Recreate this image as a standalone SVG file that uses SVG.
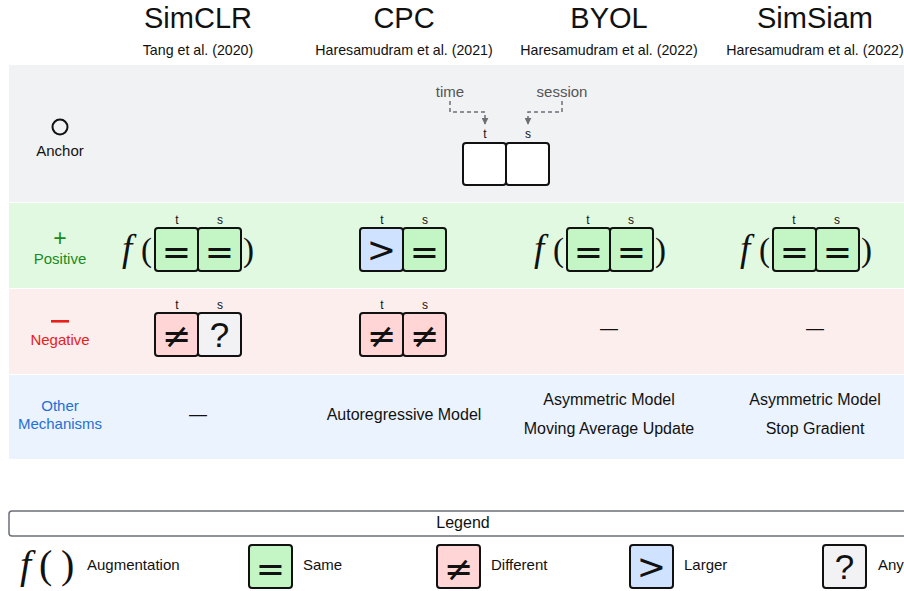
<svg xmlns="http://www.w3.org/2000/svg" width="904" height="591" viewBox="0 0 904 591">
<defs>
<style>
text{font-family:"Liberation Sans",Arial,sans-serif;fill:#111}
.title{font-size:29px;text-anchor:middle}
.cite{font-size:14.2px;text-anchor:middle}
.lbl{font-size:15px;text-anchor:middle}
.leg{font-size:15px}
.ts{font-size:12px;text-anchor:middle}
.box{stroke:#111;stroke-width:2;rx:3}
.g{fill:#c4f5c5}
.r{fill:#ffd5d5}
.b{fill:#cfe2ff}
.w{fill:#fff}
.n{fill:#f2f2f4}
.sym{font-family:"DejaVu Sans",sans-serif;font-size:35px;text-anchor:middle}
.q{font-size:35px;text-anchor:middle}
.math{font-family:"Liberation Serif","Times New Roman",serif;font-size:33px}
.fi{font-family:"Liberation Serif","Times New Roman",serif;font-size:37px;font-style:italic}
.mathL{font-family:"Liberation Serif","Times New Roman",serif;font-size:40px}
.mech{font-size:16px;text-anchor:middle}
.dash{font-size:18px;text-anchor:middle}
.conn{fill:none;stroke:#6b6f76;stroke-width:1.5;stroke-dasharray:4 3}
</style>
<marker id="arr" viewBox="0 0 10 10" refX="9" refY="5" markerWidth="7" markerHeight="7" orient="auto-start-reverse" markerUnits="userSpaceOnUse">
<path d="M0,0 L10,5 L0,10 z" fill="#6b6f76"/>
</marker>
</defs>
<rect width="904" height="591" fill="#fff"/>

<!-- row backgrounds -->
<rect x="9" y="65" width="895" height="137" fill="#f1f2f4"/>
<rect x="9" y="203" width="895" height="85" fill="#e1f9e1"/>
<rect x="9" y="289" width="895" height="85" fill="#fdeeee"/>
<rect x="9" y="375" width="895" height="84" fill="#ebf3fe"/>

<!-- titles -->
<g id="col-simclr">
<text class="title" x="198" y="28">SimCLR</text>
<text class="cite" x="198" y="55">Tang et al. (2020)</text>
</g>
<g id="col-cpc">
<text class="title" x="404" y="28">CPC</text>
<text class="cite" x="404" y="55">Haresamudram et al. (2021)</text>
</g>
<g id="col-byol">
<text class="title" x="609" y="28">BYOL</text>
<text class="cite" x="609" y="55">Haresamudram et al. (2022)</text>
</g>
<g id="col-simsiam">
<text class="title" x="815" y="28">SimSiam</text>
<text class="cite" x="815" y="55">Haresamudram et al. (2022)</text>
</g>

<!-- row labels -->
<g id="label-anchor">
<circle cx="60" cy="127" r="7.5" fill="none" stroke="#111" stroke-width="2"/>
<text class="lbl" x="60" y="156">Anchor</text>
</g>
<g id="label-positive">
<text x="60" y="246" style="font-size:23px;text-anchor:middle;fill:#1a8a1a">+</text>
<text class="lbl" x="60" y="264" style="fill:#1a8a1a">Positive</text>
</g>
<g id="label-negative">
<rect x="51" y="320" width="18" height="2.6" fill="#e8201c"/>
<text class="lbl" x="60" y="345" style="fill:#e8201c">Negative</text>
</g>
<g id="label-other">
<text class="lbl" x="60" y="411" style="fill:#1f6fd6">Other</text>
<text class="lbl" x="60" y="429" style="fill:#1f6fd6">Mechanisms</text>
</g>

<!-- anchor -->
<g id="anchor-pair">
<text class="lbl" x="450" y="97" style="fill:#555">time</text>
<text class="lbl" x="562" y="97" style="fill:#555">session</text>
<text class="ts" x="485" y="138">t</text>
<text class="ts" x="528" y="138">s</text>
<rect class="box w" x="463" y="143" width="43" height="42"/>
<rect class="box w" x="506" y="143" width="43" height="42"/>
</g>
<g id="connectors">
<path class="conn" d="M450,101 V112 H485 V124" marker-end="url(#arr)"/>
<path class="conn" d="M562,101 V112 H528 V124" marker-end="url(#arr)"/>
</g>

<!-- positive row -->
<g id="pos-simclr">
<text class="fi" x="122" y="261">f</text>
<text class="math" x="141" y="261">(</text>
<text class="ts" x="177" y="224">t</text>
<text class="ts" x="220" y="224">s</text>
<rect class="box g" x="155" y="228" width="43" height="43"/>
<rect class="box g" x="198" y="228" width="43" height="43"/>
<text class="sym" x="176.5" y="264">=</text>
<text class="sym" x="219.5" y="264">=</text>
<text class="math" x="243" y="261">)</text>
</g>
<g id="pos-cpc">
<text class="ts" x="382" y="224">t</text>
<text class="ts" x="425" y="224">s</text>
<rect class="box b" x="360" y="228" width="43" height="43"/>
<rect class="box g" x="403" y="228" width="43" height="43"/>
<text class="sym" x="381.5" y="262">&gt;</text>
<text class="sym" x="424.5" y="264">=</text>
</g>
<g id="pos-byol">
<text class="fi" x="534" y="261">f</text>
<text class="math" x="553" y="261">(</text>
<text class="ts" x="588" y="224">t</text>
<text class="ts" x="631" y="224">s</text>
<rect class="box g" x="567" y="228" width="43" height="43"/>
<rect class="box g" x="610" y="228" width="43" height="43"/>
<text class="sym" x="588.5" y="264">=</text>
<text class="sym" x="631.5" y="264">=</text>
<text class="math" x="655" y="261">)</text>
</g>
<g id="pos-simsiam">
<text class="fi" x="740" y="261">f</text>
<text class="math" x="759" y="261">(</text>
<text class="ts" x="794" y="224">t</text>
<text class="ts" x="837" y="224">s</text>
<rect class="box g" x="773" y="228" width="43" height="43"/>
<rect class="box g" x="816" y="228" width="43" height="43"/>
<text class="sym" x="794.5" y="264">=</text>
<text class="sym" x="837.5" y="264">=</text>
<text class="math" x="861" y="261">)</text>
</g>

<!-- negative row -->
<g id="neg-simclr">
<text class="ts" x="177" y="309">t</text>
<text class="ts" x="220" y="309">s</text>
<rect class="box r" x="155" y="313" width="43" height="43"/>
<rect class="box n" x="198" y="313" width="43" height="43"/>
<text class="sym" x="176.5" y="348">≠</text>
<text class="q" x="219.5" y="347">?</text>
</g>
<g id="neg-cpc">
<text class="ts" x="382" y="309">t</text>
<text class="ts" x="425" y="309">s</text>
<rect class="box r" x="360" y="313" width="43" height="43"/>
<rect class="box r" x="403" y="313" width="43" height="43"/>
<text class="sym" x="381.5" y="348">≠</text>
<text class="sym" x="424.5" y="348">≠</text>
</g>
<g id="neg-byol"><text class="dash" x="609" y="334">—</text></g>
<g id="neg-simsiam"><text class="dash" x="815" y="334">—</text></g>

<!-- other mechanisms -->
<g id="oth-simclr"><text class="dash" x="198" y="420">—</text></g>
<g id="oth-cpc"><text class="mech" x="404" y="420">Autoregressive Model</text></g>
<g id="oth-byol">
<text class="mech" x="609" y="405">Asymmetric Model</text>
<text class="mech" x="609" y="434">Moving Average Update</text>
</g>
<g id="oth-simsiam">
<text class="mech" x="815" y="405">Asymmetric Model</text>
<text class="mech" x="815" y="434">Stop Gradient</text>
</g>

<!-- legend -->
<g id="legend">
<rect x="9" y="511" width="920" height="25" rx="3" fill="#fff" stroke="#6b6f76" stroke-width="1.5"/>
<text class="mech" x="463" y="528">Legend</text>
</g>
<g id="legend-aug">
<text class="mathL" x="20" y="578"><tspan font-style="italic">f</tspan></text>
<text class="mathL" x="39" y="578">(</text>
<text class="mathL" x="61" y="578">)</text>
<text class="leg" x="87" y="570">Augmentation</text>
</g>
<g id="legend-same">
<rect class="box g" x="249" y="545" width="43" height="43"/>
<text class="sym" x="270.5" y="581">=</text>
<text class="leg" x="303" y="570">Same</text>
</g>
<g id="legend-diff">
<rect class="box r" x="437" y="545" width="43" height="43"/>
<text class="sym" x="458.5" y="581">≠</text>
<text class="leg" x="491" y="570">Different</text>
</g>
<g id="legend-larger">
<rect class="box b" x="630" y="545" width="43" height="43"/>
<text class="sym" x="651.5" y="579">&gt;</text>
<text class="leg" x="684" y="570">Larger</text>
</g>
<g id="legend-any">
<rect class="box n" x="823" y="545" width="43" height="43"/>
<text class="q" x="844.5" y="579">?</text>
<text class="leg" x="878" y="570">Any</text>
</g>
</svg>
